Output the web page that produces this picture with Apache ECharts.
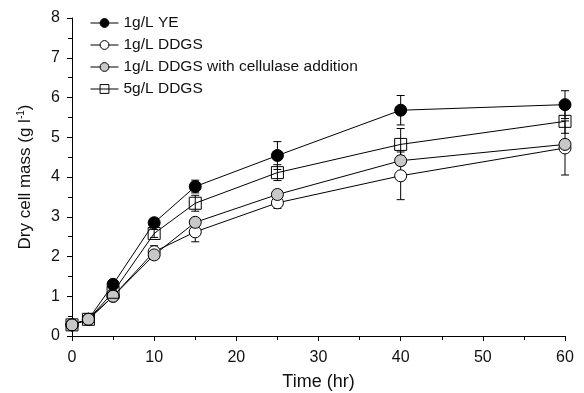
<!DOCTYPE html>
<html>
<head>
<meta charset="utf-8">
<script src="https://cdn.jsdelivr.net/npm/echarts@6/dist/echarts.min.js"></script>
<style>
  html, body { margin: 0; padding: 0; background: #fff; }
  #chart { width: 584px; height: 393px; }
</style>
</head>
<body>
<div id="chart"></div>
<script>
// sampling times (hr)
const times = [0, 2, 5, 10, 15, 25, 40, 60]

// dry cell mass (g/l) per condition
const ye1 = [0.28, 0.42, 1.3, 2.85, 3.76, 4.54, 5.68, 5.82]
const ddgs1 = [0.28, 0.42, 1.0, 2.12, 2.62, 3.35, 4.03, 4.73]
const ddgsCell = [0.28, 0.42, 1.0, 2.04, 2.86, 3.56, 4.41, 4.82]
const ddgs5 = [0.28, 0.42, 1.1, 2.58, 3.34, 4.11, 4.82, 5.4]

// standard deviations
const ye1Err = [0, 0, 0.05, 0.08, 0.16, 0.35, 0.37, 0.35]
const ddgs1Err = [0, 0, 0.05, 0.15, 0.25, 0.14, 0.6, 0.68]
const ddgsCellErr = [0, 0, 0.05, 0.1, 0.1, 0.1, 0.12, 0.1]
const ddgs5Err = [0, 0, 0.05, 0.1, 0.2, 0.2, 0.4, 0.3]

const seriesNames = [
  '1g/L YE',
  '1g/L DDGS',
  '1g/L DDGS with cellulase addition',
  '5g/L DDGS',
]

const font = 'Liberation Sans, Arial, sans-serif'

const pairs = (vals) => times.map((t, i) => [t, vals[i]])

function errSeries(vals, errs) {
  return {
    type: 'custom',
    z: 1,
    silent: true,
    data: times.map((t, i) => [t, vals[i] - errs[i], vals[i] + errs[i]]),
    renderItem(params, api) {
      const lo = api.coord([api.value(0), api.value(1)])
      const hi = api.coord([api.value(0), api.value(2)])
      if (Math.abs(lo[1] - hi[1]) < 1) return null
      const w = 4
      const style = { stroke: '#000', lineWidth: 1 }
      return {
        type: 'group',
        children: [
          { type: 'line', shape: { x1: lo[0], y1: lo[1], x2: hi[0], y2: hi[1] }, style },
          { type: 'line', shape: { x1: lo[0] - w, y1: lo[1], x2: lo[0] + w, y2: lo[1] }, style },
          { type: 'line', shape: { x1: hi[0] - w, y1: hi[1], x2: hi[0] + w, y2: hi[1] }, style },
        ],
      }
    },
  }
}

function lineSeries(name, vals, symbol, fill) {
  return {
    name,
    type: 'line',
    z: 3,
    data: pairs(vals),
    symbol,
    symbolSize: 12,
    showAllSymbol: true,
    lineStyle: { color: '#000', width: 1 },
    itemStyle: { color: fill, borderColor: '#000', borderWidth: 1 },
    emphasis: { disabled: true },
  }
}

const chart = echarts.init(document.getElementById('chart'), null, { renderer: 'canvas' })

chart.setOption({
  animation: false,
  backgroundColor: '#fff',
  grid: { left: 72, right: 19, top: 18, bottom: 57, outerBoundsMode: 'none' },
  legend: {
    orient: 'vertical',
    left: 85,
    top: 10,
    itemWidth: 28,
    itemHeight: 11,
    itemGap: 6,
    data: seriesNames,
    lineStyle: { width: 1, color: '#000' },
    itemStyle: { borderWidth: 1, borderColor: '#000' },
    textStyle: { fontFamily: font, fontSize: 15.5, lineHeight: 16, color: '#111' },
  },
  xAxis: {
    type: 'value',
    min: 0,
    max: 60,
    interval: 10,
    name: 'Time (hr)',
    nameLocation: 'middle',
    nameGap: 37,
    nameTextStyle: { fontFamily: font, fontSize: 18, color: '#111' },
    axisLine: { onZero: false, lineStyle: { color: '#000', width: 1 } },
    axisTick: { length: 5, lineStyle: { color: '#000' } },
    minorTick: { show: true, splitNumber: 2, length: 4, lineStyle: { color: '#000' } },
    axisLabel: { fontFamily: font, fontSize: 16, color: '#111', margin: 14 },
    splitLine: { show: false },
  },
  yAxis: {
    type: 'value',
    min: 0,
    max: 8,
    interval: 1,
    name: 'Dry cell mass (g l{sup|-1})',
    nameLocation: 'middle',
    nameGap: 38,
    nameRotate: 90,
    nameTextStyle: {
      fontFamily: font,
      fontSize: 17,
      color: '#111',
      rich: { sup: { fontFamily: font, fontSize: 10, verticalAlign: 'top', padding: [0, 0, 8, 0], color: '#111' } },
    },
    axisLine: { show: true, onZero: false, lineStyle: { color: '#000', width: 1 } },
    axisTick: { show: true, length: 5, lineStyle: { color: '#000' } },
    minorTick: { show: true, splitNumber: 2, length: 4, lineStyle: { color: '#000' } },
    axisLabel: { fontFamily: font, fontSize: 16, color: '#111', margin: 12 },
    splitLine: { show: false },
  },
  series: [
    errSeries(ye1, ye1Err),
    errSeries(ddgs1, ddgs1Err),
    errSeries(ddgsCell, ddgsCellErr),
    errSeries(ddgs5, ddgs5Err),
    lineSeries(seriesNames[0], ye1, 'circle', '#000'),
    lineSeries(seriesNames[1], ddgs1, 'circle', '#fff'),
    lineSeries(seriesNames[2], ddgsCell, 'circle', '#c8c8c8'),
    lineSeries(seriesNames[3], ddgs5, 'rect', 'rgba(255,255,255,0)'),
  ],
})
</script>
</body>
</html>
